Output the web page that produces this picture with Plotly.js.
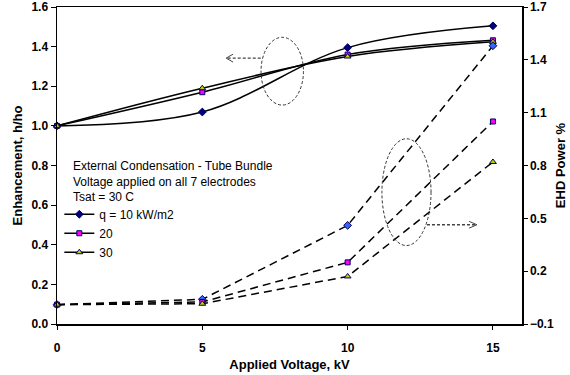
<!DOCTYPE html>
<html>
<head>
<meta charset="utf-8">
<script src="https://cdn.plot.ly/plotly-3.0.1.min.js"></script>
<style>html,body{margin:0;padding:0;background:#fff;}#chart{width:570px;height:375px;}</style>
</head>
<body>
<div id="chart"></div>
<script>
// Applied voltage (kV)
var voltage = [0, 5, 10, 15];
// Enhancement h/ho
var enhQ10 = [1.0, 1.07, 1.395, 1.505];
var enhQ20 = [1.0, 1.17, 1.36, 1.432];
var enhQ30 = [1.0, 1.19, 1.35, 1.424];
// EHD power %
var powQ10 = [0.01, 0.04, 0.46, 1.48];
var powQ20 = [0.01, 0.025, 0.25, 1.05];
var powQ30 = [0.01, 0.015, 0.17, 0.82];
var seriesNames = ['q = 10 kW/m2', '20', '30'];

var FONT = 'Liberation Sans, Arial, sans-serif';

function enhTrace(y, name, sym, fill, size) {
  return {
    x: voltage, y: y, name: name, type: 'scatter', mode: 'lines+markers',
    line: {color: '#000', width: 1.5, shape: 'spline', smoothing: 1},
    marker: {symbol: sym, color: fill, size: size, line: {color: '#000060', width: 1}},
    cliponaxis: false, yaxis: 'y'
  };
}
function powTrace(y, sym, fill, size) {
  return {
    x: voltage, y: y, type: 'scatter', mode: 'lines+markers', showlegend: false,
    line: {color: '#000', width: 1.5, dash: '8px,5px'},
    marker: {symbol: sym, color: fill, size: size, line: {color: '#000060', width: 1}},
    cliponaxis: false, yaxis: 'y2'
  };
}

var data = [
  powTrace(powQ10, 'diamond', '#3366FF', 6),
  powTrace(powQ20, 'square', '#FF00FF', 5),
  powTrace(powQ30, 'triangle-up', '#C0D000', 6),
  enhTrace(enhQ10, seriesNames[0], 'diamond', '#000080', 6),
  enhTrace(enhQ20, seriesNames[1], 'square', '#FF00FF', 5),
  enhTrace(enhQ30, seriesNames[2], 'triangle-up', '#C0D000', 6)
];

var dashS = '3px,2px';
var shapes = [
  {type: 'circle', xref: 'x', yref: 'y', x0: 7.02, x1: 8.48, y0: 1.105, y1: 1.447,
   line: {color: '#333', width: 1, dash: dashS}},
  {type: 'circle', xref: 'x', yref: 'y', x0: 11.18, x1: 12.87, y0: 0.396, y1: 0.935,
   line: {color: '#333', width: 1, dash: dashS}},
  // left arrow
  {type: 'line', xref: 'x', yref: 'y', x0: 7.01, x1: 5.82, y0: 1.342, y1: 1.342,
   line: {color: '#444', width: 1.3, dash: dashS}},
  {type: 'line', xref: 'x', yref: 'y', x0: 5.82, x1: 6.06, y0: 1.342, y1: 1.362, line: {color: '#444', width: 1}},
  {type: 'line', xref: 'x', yref: 'y', x0: 5.82, x1: 6.06, y0: 1.342, y1: 1.322, line: {color: '#444', width: 1}},
  // right arrow
  {type: 'line', xref: 'x', yref: 'y', x0: 12.73, x1: 14.45, y0: 0.501, y1: 0.501,
   line: {color: '#444', width: 1.3, dash: dashS}},
  {type: 'line', xref: 'x', yref: 'y', x0: 14.45, x1: 14.18, y0: 0.501, y1: 0.518, line: {color: '#444', width: 1}},
  {type: 'line', xref: 'x', yref: 'y', x0: 14.45, x1: 14.18, y0: 0.501, y1: 0.484, line: {color: '#444', width: 1}}
];

var layout = {
  width: 570, height: 375,
  margin: {l: 57, r: 48, t: 7, b: 51},
  paper_bgcolor: '#fff', plot_bgcolor: '#fff',
  font: {family: FONT, size: 12, color: '#000'},
  showlegend: true,
  legend: {x: 0.005, y: 0.392, xanchor: 'left', yanchor: 'top', bgcolor: 'rgba(0,0,0,0)',
           font: {family: FONT, size: 12, color: '#000'}, itemwidth: 30, tracegroupgap: 0},
  xaxis: {
    range: [0, 16], tickvals: [0, 5, 10, 15], ticks: 'outside', ticklen: 4, tickcolor: '#000',
    showline: true, linecolor: '#000', linewidth: 1.5, mirror: true, showgrid: false, zeroline: false,
    tickfont: {family: FONT, size: 12, weight: 'bold'}, ticklabelstandoff: 8,
    title: {text: 'Applied Voltage, kV', font: {family: FONT, size: 13, weight: 'bold'}, standoff: 6}
  },
  yaxis: {
    range: [0, 1.6], dtick: 0.2, tick0: 0, tickformat: '.1f', ticks: 'outside', ticklen: 5, tickcolor: '#000',
    showline: true, linecolor: '#000', linewidth: 1.5, showgrid: false, zeroline: false,
    tickfont: {family: FONT, size: 12, weight: 'bold'},
    title: {text: 'Enhancement, h/ho', font: {family: FONT, size: 13, weight: 'bold'}, standoff: 6}
  },
  yaxis2: {
    range: [-0.1, 1.7], dtick: 0.3, tick0: -0.1, tickformat: '.1f', overlaying: 'y', side: 'right',
    ticks: 'outside', ticklen: 4, tickcolor: '#000',
    showline: true, linecolor: '#000', linewidth: 1.5, showgrid: false, zeroline: false,
    tickfont: {family: FONT, size: 12, weight: 'bold'},
    title: {text: 'EHD Power %', font: {family: FONT, size: 13, weight: 'bold'}, standoff: 3}
  },
  shapes: shapes,
  annotations: [
    {xref: 'paper', yref: 'paper', x: 0.03, y: 0.448, xanchor: 'left', yanchor: 'middle', align: 'left',
     showarrow: false, font: {family: FONT, size: 12, color: '#000'},
     text: 'External Condensation - Tube Bundle<br>Voltage applied on all 7 electrodes<br>Tsat = 30 C'}
  ]
};

Plotly.newPlot('chart', data, layout, {displayModeBar: false, staticPlot: true});
</script>
</body>
</html>
